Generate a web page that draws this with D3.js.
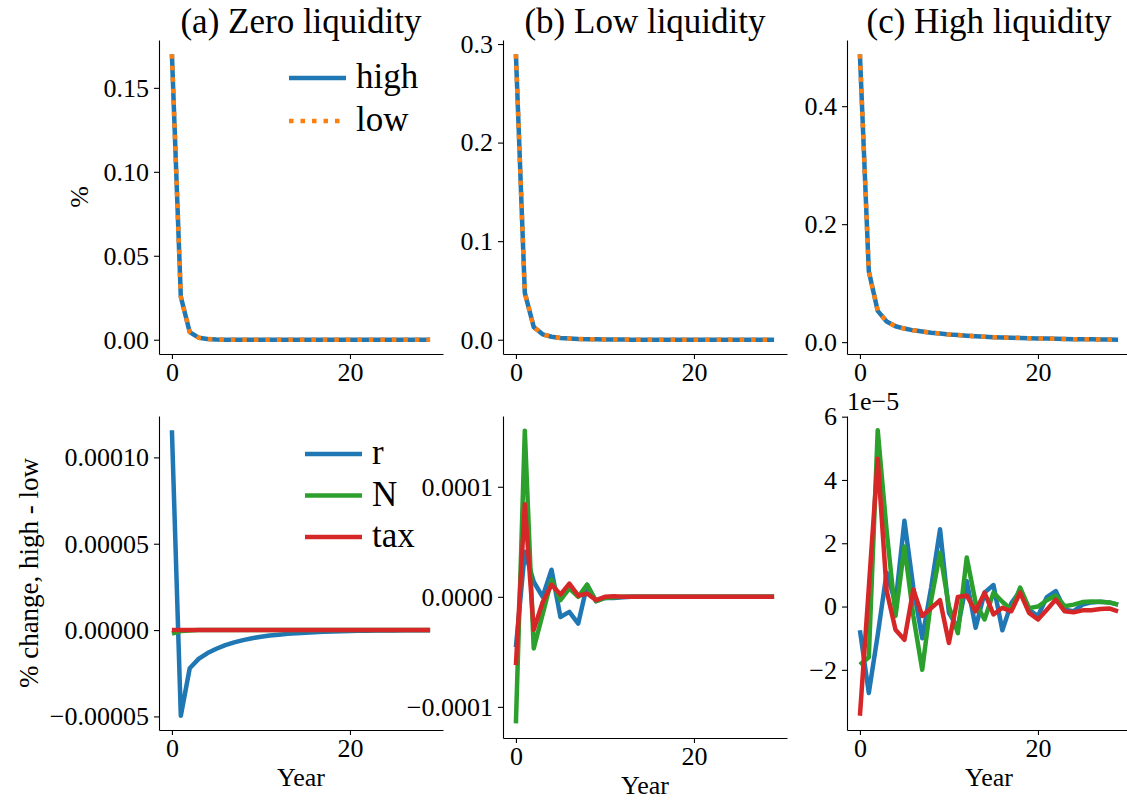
<!DOCTYPE html>
<html>
<head>
<meta charset="utf-8">
<script src="https://cdn.jsdelivr.net/npm/d3@7"></script>
<style>
  body { margin: 0; background: #fff; }
  text { font-family: "Liberation Serif", serif; fill: #000; }
</style>
</head>
<body>
<svg id="chart" width="1127" height="802"></svg>
<script>
// ---- data ----
const years = d3.range(0, 30);
const xTicks = [0, 20];
const titles = ["(a) Zero liquidity", "(b) Low liquidity", "(c) High liquidity"];

// top row: response in %, high vs low (they lie on top of each other)
const zeroHigh = [0.170, 0.0256, 0.0045, 0.0012, 0.0004, 0.0001, 0, 0, 0, 0, 0, 0, 0, 0, 0, 0, 0, 0, 0, 0, 0, 0, 0, 0, 0, 0, 0, 0, 0, 0];
const zeroLow  = [0.170, 0.0256, 0.0045, 0.0012, 0.0004, 0.0001, 0, 0, 0, 0, 0, 0, 0, 0, 0, 0, 0, 0, 0, 0, 0, 0, 0, 0, 0, 0, 0, 0, 0, 0];
const lowHigh  = [0.2896, 0.0475, 0.0130, 0.0055, 0.0030, 0.0018, 0.0012, 0.0008, 0.0006, 0.0004, 0.0003, 0.0002, 0.0002, 0.0001, 0.0001, 0.0001, 0.0001, 0, 0, 0, 0, 0, 0, 0, 0, 0, 0, 0, 0, 0];
const lowLow   = [0.2896, 0.0475, 0.0130, 0.0055, 0.0030, 0.0018, 0.0012, 0.0008, 0.0006, 0.0004, 0.0003, 0.0002, 0.0002, 0.0001, 0.0001, 0.0001, 0.0001, 0, 0, 0, 0, 0, 0, 0, 0, 0, 0, 0, 0, 0];
const highHigh = [0.488, 0.120, 0.053, 0.035, 0.027, 0.023, 0.020, 0.018, 0.016, 0.0145, 0.013, 0.012, 0.011, 0.010, 0.0092, 0.0085, 0.0080, 0.0075, 0.0071, 0.0067, 0.0063, 0.0060, 0.0057, 0.0054, 0.0051, 0.0049, 0.0047, 0.0045, 0.0043, 0.0041];
const highLow  = [0.488, 0.120, 0.053, 0.035, 0.027, 0.023, 0.020, 0.018, 0.016, 0.0145, 0.013, 0.012, 0.011, 0.010, 0.0092, 0.0085, 0.0080, 0.0075, 0.0071, 0.0067, 0.0063, 0.0060, 0.0057, 0.0054, 0.0051, 0.0049, 0.0047, 0.0045, 0.0043, 0.0041];

// bottom row: % change, high - low
const zeroR   = [11.57e-5, -4.96e-5, -2.21e-5, -1.67e-5, -1.33e-5, -1.08e-5, -0.87e-5, -0.71e-5, -0.58e-5, -0.47e-5, -0.39e-5, -0.32e-5, -0.27e-5, -0.22e-5, -0.18e-5, -0.15e-5, -0.12e-5, -0.10e-5, -0.08e-5, -0.065e-5, -0.053e-5, -0.043e-5, -0.035e-5, -0.029e-5, -0.024e-5, -0.02e-5, -0.016e-5, -0.013e-5, -0.011e-5, -0.009e-5];
const zeroN   = [-0.2e-5, -0.06e-5, -0.02e-5, 0, 0, 0, 0, 0, 0, 0, 0, 0, 0, 0, 0, 0, 0, 0, 0, 0, 0, 0, 0, 0, 0, 0, 0, 0, 0, 0];
const zeroTax = [0, 0, 0, 0, 0, 0, 0, 0, 0, 0, 0, 0, 0, 0, 0, 0, 0, 0, 0, 0, 0, 0, 0, 0, 0, 0, 0, 0, 0, 0];

const lowR   = [-0.457e-4, 0.41e-4, 0.137e-4, 0.0, 0.246e-4, -0.183e-4, -0.137e-4, -0.243e-4, 0.11e-4, -0.04e-4, -0.01e-4, -0.01e-4, -0.005e-4, 0, 0, 0, 0, 0, 0, 0, 0, 0, 0, 0, 0, 0, 0, 0, 0, 0];
const lowN   = [-1.15e-4, 1.51e-4, -0.47e-4, -0.16e-4, 0.155e-4, -0.03e-4, 0.076e-4, 0.0, 0.11e-4, -0.04e-4, -0.01e-4, -0.005e-4, 0, 0, 0, 0, 0, 0, 0, 0, 0, 0, 0, 0, 0, 0, 0, 0, 0, 0];
const lowTax = [-0.62e-4, 0.84e-4, -0.30e-4, -0.05e-4, 0.11e-4, 0.02e-4, 0.12e-4, 0.01e-4, 0.03e-4, -0.03e-4, 0.0, 0.005e-4, 0, 0, 0, 0, 0, 0, 0, 0, 0, 0, 0, 0, 0, 0, 0, 0, 0, 0];

// high liquidity, in units of 1e-5
const highR   = [-0.75, -2.73, -0.9, 1.07, 0.1, 2.71, 0.6, -1.0, 0.6, 2.44, -0.2, -0.67, 0.8, -0.67, 0.44, 0.68, -0.75, 0.1, 0.5, -0.1, -0.3, 0.3, 0.49, -0.1, -0.15, 0.06, 0.13, 0.15, 0.13, 0.06];
const highN   = [-1.84, -1.6, 5.57, 2.4, -0.3, 1.9, -0.3, -2.0, 0.2, 1.7, 0.0, -0.84, 1.55, 0.12, -0.41, 0.44, 0.15, -0.1, 0.6, -0.05, 0.0, 0.2, 0.35, 0.01, 0.06, 0.14, 0.16, 0.15, 0.13, 0.06];
const highTax = [-3.45, 0.6, 4.67, 0.5, -0.73, -1.05, 0.54, -0.3, -0.05, 0.2, -1.15, 0.3, 0.35, -0.15, 0.44, -0.25, -0.04, -0.15, 0.44, -0.2, -0.41, -0.1, 0.22, -0.15, -0.18, -0.12, -0.12, -0.08, -0.06, -0.15];

// tick values per panel
const topTicks = [[0, 0.05, 0.10, 0.15], [0, 0.1, 0.2, 0.3], [0, 0.2, 0.4]];
const botTicks = [[-0.00005, 0, 0.00005, 0.0001], [-0.0001, 0, 0.0001], [-2, 0, 2, 4, 6]];

const colors = { high: "#1f77b4", low: "#ff7f0e", r: "#1f77b4", N: "#2ca02c", tax: "#d62728" };

// ---- layout ----
const svg = d3.select("#chart");
const lefts = [159, 503, 847];
const axW = 284;
const rowTop = [{ y0: 40, y1: 354 }, { y0: 40, y1: 354 }, { y0: 40, y1: 354 }];
const rowBot = [{ y0: 416, y1: 730 }, { y0: 416, y1: 738 }, { y0: 416, y1: 730 }];
const tickFont = 26;
const bigFont = 35;

function pad(vals) {
  var ext = d3.extent(vals);
  var m = (ext[1] - ext[0]) * 0.05;
  return [ext[0] - m, ext[1] + m];
}

function drawPanel(i, row, series, ticks, fmt) {
  var x = d3.scaleLinear().domain([-1.45, 30.45]).range([lefts[i], lefts[i] + axW]);
  var all = [].concat(...series.map(s => s.values));
  var y = d3.scaleLinear().domain(pad(all)).range([row.y1, row.y0]);

  var g = svg.append("g");

  var xa = g.append("g").attr("transform", "translate(0," + row.y1 + ")")
    .call(d3.axisBottom(x).tickValues(xTicks).tickSize(5).tickSizeOuter(0).tickPadding(4).tickFormat(d3.format("d")));
  var ya = g.append("g").attr("transform", "translate(" + lefts[i] + ",0)")
    .call(d3.axisLeft(y).tickValues(ticks).tickSize(5).tickSizeOuter(0).tickPadding(5).tickFormat(fmt));
  [xa, ya].forEach(function(a) {
    a.select(".domain").attr("stroke", "#000").attr("stroke-width", 1.1);
    a.selectAll(".tick line").attr("stroke", "#000").attr("stroke-width", 1.1);
    a.selectAll("text").attr("font-size", tickFont).attr("font-family", "Liberation Serif").attr("fill", "#000");
  });

  var line = d3.line().x((d, j) => x(years[j])).y(d => y(d));
  series.forEach(function(s) {
    g.append("path").datum(s.values)
      .attr("fill", "none")
      .attr("stroke", s.color)
      .attr("stroke-width", 4.5)
      .attr("stroke-dasharray", s.dash || null)
      .attr("stroke-linejoin", "round")
      .attr("d", line);
  });
}

// top row
const topData = [[zeroHigh, zeroLow], [lowHigh, lowLow], [highHigh, highLow]];
const topFmt = [d3.format(".2f"), d3.format(".1f"), d3.format(".1f")];
topData.forEach(function(d, i) {
  drawPanel(i, rowTop[i], [
    { values: d[0], color: colors.high },
    { values: d[1], color: colors.low, dash: "4.5,7" }
  ], topTicks[i], topFmt[i]);
  svg.append("text").text(titles[i])
    .attr("x", lefts[i] + axW / 2).attr("y", 33)
    .attr("text-anchor", "middle").attr("font-size", bigFont);
});

// bottom row
const botData = [[zeroR, zeroN, zeroTax], [lowR, lowN, lowTax], [highR, highN, highTax]];
const botFmt = [d3.format(".5f"), d3.format(".4f"), d3.format("d")];
botData.forEach(function(d, i) {
  drawPanel(i, rowBot[i], [
    { values: d[0], color: colors.r },
    { values: d[1], color: colors.N },
    { values: d[2], color: colors.tax }
  ], botTicks[i], botFmt[i]);
  svg.append("text").text("Year")
    .attr("x", lefts[i] + axW / 2).attr("y", rowBot[i].y1 + 56)
    .attr("text-anchor", "middle").attr("font-size", tickFont);
});

// offset text for panel (c)
svg.append("text").text("1e\u22125").attr("x", lefts[2]).attr("y", 410).attr("font-size", tickFont);

// y labels
svg.append("text").text("%").attr("font-size", tickFont)
  .attr("transform", "translate(88," + (rowTop[0].y0 + rowTop[0].y1) / 2 + ") rotate(-90)")
  .attr("text-anchor", "middle");
svg.append("text").text("% change, high - low").attr("font-size", 27)
  .attr("transform", "translate(38," + (rowBot[0].y0 + rowBot[0].y1) / 2 + ") rotate(-90)")
  .attr("text-anchor", "middle");

// legends
function legend(items, x0, y0, step) {
  items.forEach(function(it, k) {
    var yy = y0 + k * step;
    svg.append("line").attr("x1", x0).attr("x2", x0 + 57).attr("y1", yy).attr("y2", yy)
      .attr("stroke", it.color).attr("stroke-width", 4.5)
      .attr("stroke-dasharray", it.dash || null);
    svg.append("text").text(it.label).attr("x", x0 + 67).attr("y", yy + 10).attr("font-size", bigFont);
  });
}
legend([{ label: "high", color: colors.high }, { label: "low", color: colors.low, dash: "4.5,7" }], 289, 78, 43);
legend([{ label: "r", color: colors.r }, { label: "N", color: colors.N }, { label: "tax", color: colors.tax }], 305, 454, 41.5);
</script>
</body>
</html>
